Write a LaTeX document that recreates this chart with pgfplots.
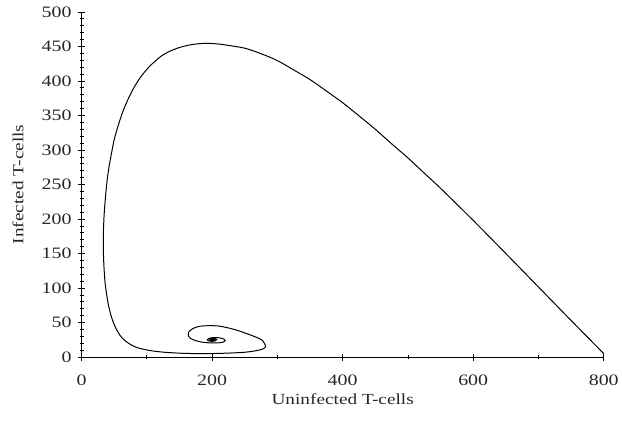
\documentclass[border=0pt]{standalone}
\usepackage{pgfplots}
\pgfplotsset{compat=1.18}
\usepackage{fontspec}
\setmainfont[FakeStretch=1.25]{Liberation Serif}
\definecolor{txt}{RGB}{40,38,38}
\begin{document}
\begin{tikzpicture}
\begin{axis}[
  scale only axis,
  width=525pt, height=347pt,
  xmin=0, xmax=800, ymin=0, ymax=500,
  axis x line=bottom, axis y line=left,
  axis line style={-, line width=0.9pt},
  xtick={0,200,400,600,800},
  minor xtick={100,300,500,700},
  ytick={0,50,...,500},
  minor ytick={10,20,...,490},
  tick align=center,
  major tick length=7pt,
  minor tick length=4pt,
  every tick/.style={black, line width=0.8pt},
  /pgf/number format/assume math mode=true,
  tick label style={font=\fontsize{16}{19}\selectfont, text=txt},
  xticklabel style={yshift=-11pt},
  yticklabel style={xshift=-3pt},
  label style={font=\fontsize{15.5}{18}\selectfont, text=txt},
  xlabel={Uninfected T-cells},
  ylabel={Infected T-cells},
  x label style={at={(axis description cs:0.5,0)}, anchor=center, yshift=-42pt},
  y label style={at={(axis description cs:0,0.5)}, anchor=center, yshift=64pt},
  clip=false,
]
\addplot[black, line width=1pt, smooth, tension=0.5] coordinates {
(800,5) (750,53) (700,101.5) (650,150) (600,198) (550,244.5) (525,266.5) (500,288.5)
(475,309) (450,330) (425,349.5) (400,368.5) (375,385.5) (350,402) (325,416) (300,429.5)
(275,439.5) (250,447.5) (225,451.5) (210,453.5) (195,454.5) (180,454) (165,452)
(150,448.5) (135,443) (122,436) (112,428) (104,421) (91.5,407) (80,390) (71,373)
(63,355) (56,335) (50,315) (46,296) (42,275) (39,255) (36.5,230) (34.5,205)
(33.3,176) (33.5,150) (34.5,128) (36,108) (38.5,90) (42,72) (46.5,56) (53,41) (61,29)
(72,20) (86,13.5) (105,9.5) (127,7) (155,5.5) (180,5) (205,5.2) (230,6) (250,7)
(266,9) (277,11.5) (282,15) (280,20) (276,25) (267,29) (256,33) (241,38) (226,42)
(210,45) (195,45.5) (180,44.5) (170,41) (164,36) (164,30) (170,25.5) (180,22.5)
(190,21) (200,20.5) (210,20.7) (217,21.8) (220,24) (217,26.5) (210,28) (202,28.2)
(195,27) (192.5,25) (195,23.3) (200,22.8) (205,23.5) (207,25.3) (204,26.6) (199,26.5)
(196.5,25.2) (198.5,24) (202,24.2) (203.5,25.2) (201.5,26) (199.5,25.5) (200,25)
};
\end{axis}
\path (-82pt,-65pt) rectangle (540pt,359pt);
\end{tikzpicture}
\end{document}
